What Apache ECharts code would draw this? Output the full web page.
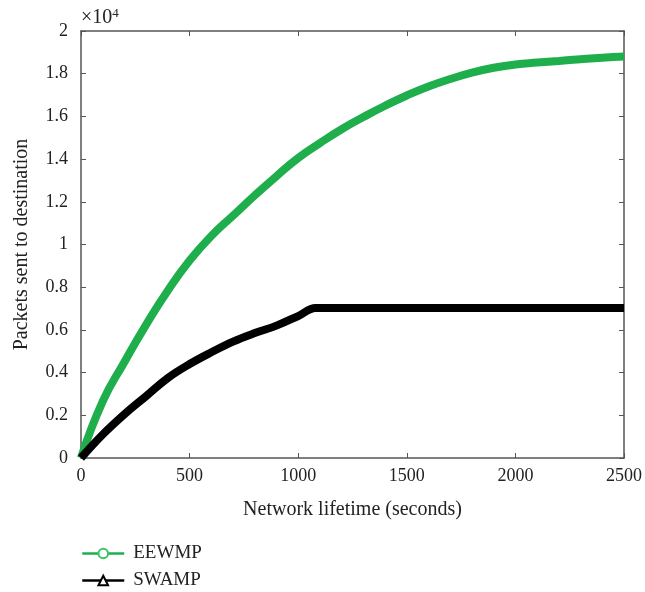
<!DOCTYPE html>
<html>
<head>
<meta charset="utf-8">
<script src="https://cdn.jsdelivr.net/npm/echarts@6/dist/echarts.min.js"></script>
<style>
  html, body { margin: 0; padding: 0; background: #fff; }
  #chart { width: 645px; height: 592px; }
</style>
</head>
<body>
<div id="chart"></div>
<script>
// time samples (seconds)
var eewmpTime = [0, 100, 200, 300, 400, 500, 600, 700, 800, 900, 1000, 1100, 1200,
  1300, 1400, 1500, 1600, 1700, 1800, 1900, 2000, 2100, 2200, 2300, 2400, 2500]
var eewmpPackets = [0, 2650, 4500, 6250, 7850, 9250, 10400, 11350, 12300, 13200, 14050,
  14750, 15400, 15970, 16500, 16980, 17400, 17750, 18050, 18280, 18430, 18520, 18600,
  18680, 18750, 18800]

var swampTime = [0, 100, 200, 300, 400, 500, 600, 700, 800, 900, 1000, 1080, 1100,
  1500, 2000, 2500]
var swampPackets = [0, 1100, 2050, 2900, 3750, 4400, 4950, 5450, 5850, 6200, 6650, 7030,
  7030, 7030, 7030, 7030]

var yTicks = ['0', '0.2', '0.4', '0.6', '0.8', '1', '1.2', '1.4', '1.6', '1.8', '2']

function pairs(xs, ys) {
  return xs.map(function (x, i) { return [x, ys[i]] })
}

var font = 'Liberation Serif'
var axisColor = '#555'
var textColor = '#222'

var chart = echarts.init(document.getElementById('chart'))
var option = {
  backgroundColor: '#fff',
  animation: false,
  textStyle: { fontFamily: font },
  grid: {
    left: 81,
    right: 18,
    top: 31,
    bottom: 134
  },
  graphic: [{
    type: 'text',
    left: 81,
    top: 7,
    style: {
      text: '{a|×10}{b|4}',
      rich: {
        a: { fontFamily: font, fontSize: 20, fill: textColor },
        b: { fontFamily: font, fontSize: 13, fill: textColor, verticalAlign: 'top', padding: [0, 0, 9, 0] }
      }
    }
  }],
  legend: {
    orient: 'vertical',
    left: 81,
    top: 544,
    height: 80,
    itemWidth: 42,
    itemHeight: 12,
    itemGap: 8,
    padding: 0,
    textStyle: { fontFamily: font, fontSize: 19, color: textColor, padding: [0, 0, 0, 4] },
    lineStyle: { width: 2.5 },
    itemStyle: { borderWidth: 2 },
    data: ['EEWMP', 'SWAMP']
  },
  xAxis: [{
    type: 'value',
    min: 0,
    max: 2500,
    interval: 500,
    name: 'Network lifetime (seconds)',
    nameLocation: 'middle',
    nameGap: 42,
    nameTextStyle: { fontFamily: font, fontSize: 20, color: textColor },
    axisLine: { onZero: false, lineStyle: { color: axisColor, width: 1.5 } },
    axisTick: { inside: true, length: 5, lineStyle: { color: axisColor } },
    axisLabel: {
      fontFamily: font,
      fontSize: 18,
      color: textColor,
      margin: 9,
      formatter: function (v) { return String(v) }
    },
    splitLine: { show: false }
  }, {
    type: 'value',
    position: 'top',
    min: 0,
    max: 2500,
    interval: 500,
    axisLine: { show: true, onZero: false, lineStyle: { color: axisColor, width: 1.5 } },
    axisTick: { inside: true, length: 5, lineStyle: { color: axisColor } },
    axisLabel: { show: false },
    splitLine: { show: false }
  }],
  yAxis: [{
    type: 'value',
    min: 0,
    max: 20000,
    interval: 2000,
    name: 'Packets sent to destination',
    nameLocation: 'middle',
    nameGap: 49,
    nameTextStyle: { fontFamily: font, fontSize: 20, color: textColor },
    axisLine: { show: true, onZero: false, lineStyle: { color: axisColor, width: 1.5 } },
    axisTick: { show: true, inside: true, length: 5, lineStyle: { color: axisColor } },
    axisLabel: {
      fontFamily: font,
      fontSize: 18,
      color: textColor,
      margin: 13,
      formatter: function (v) { return yTicks[Math.round(v / 2000)] }
    },
    splitLine: { show: false }
  }, {
    type: 'value',
    position: 'right',
    min: 0,
    max: 20000,
    interval: 2000,
    axisLine: { show: true, onZero: false, lineStyle: { color: axisColor, width: 1.5 } },
    axisTick: { show: true, inside: true, length: 5, lineStyle: { color: axisColor } },
    axisLabel: { show: false },
    splitLine: { show: false }
  }],
  series: [{
    name: 'EEWMP',
    type: 'line',
    symbol: 'emptyCircle',
    symbolSize: 9,
    showSymbol: false,
    smooth: 0.5,
    color: '#1fae4c',
    lineStyle: { width: 8, color: '#1fae4c' },
    itemStyle: { color: '#3cc465', borderColor: '#3cc465', borderWidth: 2 },
    data: pairs(eewmpTime, eewmpPackets)
  }, {
    name: 'SWAMP',
    type: 'line',
    symbol: 'emptyTriangle',
    symbolSize: 12,
    showSymbol: false,
    smooth: 0.4,
    color: '#000',
    lineStyle: { width: 8, color: '#000' },
    itemStyle: { color: '#000', borderColor: '#000', borderWidth: 1.5 },
    data: pairs(swampTime, swampPackets)
  }]
}
chart.setOption(option)
</script>
</body>
</html>
